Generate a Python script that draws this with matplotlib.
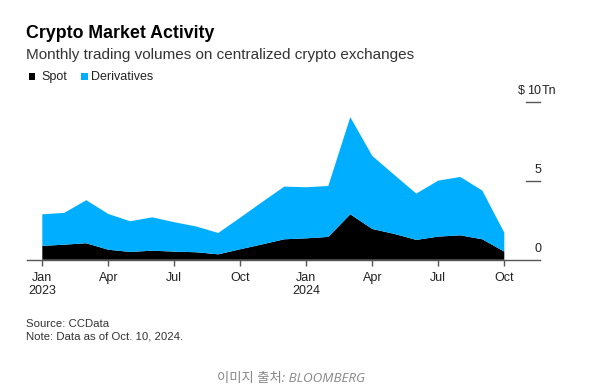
import matplotlib
matplotlib.use("Agg")
import matplotlib.pyplot as plt
from matplotlib.patches import Rectangle
from matplotlib.transforms import blended_transform_factory, offset_copy

# ---- data (trillions USD) ----
months = list(range(22))  # Jan 2023 .. Oct 2024
spot = [0.87, 0.95, 1.04, 0.63, 0.49, 0.57, 0.51, 0.47, 0.34, 0.66, 0.97, 1.29,
        1.35, 1.44, 2.87, 1.94, 1.63, 1.25, 1.46, 1.54, 1.29, 0.51]
derivatives = [2.00, 2.01, 2.72, 2.26, 1.94, 2.11, 1.86, 1.63, 1.35, 2.00, 2.68, 3.33,
               3.23, 3.22, 6.14, 4.62, 3.73, 2.93, 3.54, 3.69, 3.08, 1.20]
series_names = ["Spot", "Derivatives"]
series_colors = ["#000000", "#00AEFF"]
xtick_pos = [0, 3, 6, 9, 12, 15, 18, 21]
xtick_labels = ["Jan\n2023", "Apr", "Jul", "Oct", "Jan\n2024", "Apr", "Jul", "Oct"]
ytick_vals = [0, 5, 10]
ytick_labels = ["0", "5", "10"]

title = "Crypto Market Activity"
subtitle = "Monthly trading volumes on centralized crypto exchanges"
source = "Source: CCData"
note = "Note: Data as of Oct. 10, 2024."
caption = "이미지 출처: BLOOMBERG"

W, H = 590, 388
plt.rcParams['font.family'] = ['Liberation Sans', 'DejaVu Sans']
fig = plt.figure(figsize=(W / 100, H / 100), dpi=100)

def fx(px):
    return px / W

def fy(py):
    return 1 - py / H

ax_l, ax_r, ax_b, ax_t = 26.7, 540, 259.7, 101.5
ax = fig.add_axes([fx(ax_l), fy(ax_b), fx(ax_r - ax_l), (ax_b - ax_t) / H])

ax.stackplot(months, spot, derivatives, colors=series_colors, linewidth=0)
ax.set_xlim((ax_l - 42.3) / 22.0, (ax_r - 42.3) / 22.0)
ax.set_ylim(0, 10)

for s in ["top", "right", "left"]:
    ax.spines[s].set_visible(False)
ax.spines["bottom"].set_color("#555555")
ax.spines["bottom"].set_linewidth(1)
ax.spines["bottom"].set_zorder(0)
ax.set_yticks([])
ax.set_xticks(xtick_pos)
ax.set_xticklabels(xtick_labels, fontsize=9, color="#222222", linespacing=1.2)
ax.tick_params(axis="x", direction="out", length=4, width=1, color="#555555", pad=4.5)

# y ticks: short dashes at right with labels above
trans = blended_transform_factory(ax.transAxes, ax.transData)
x0 = (526 - ax_l) / (ax_r - ax_l)
for v, lab in zip(ytick_vals, ytick_labels):
    if v > 0:
        ax.plot([x0, 1.0], [v, v], transform=trans, color="#555555", lw=1, clip_on=False)
    t = offset_copy(trans, fig=fig, x=0, y=7.8, units="points")
    ax.text((541.5 - ax_l) / (ax_r - ax_l), v, lab, transform=t, ha="right", va="center",
            fontsize=9, color="#222222")
    if v == 10:
        ax.text((525 - ax_l) / (ax_r - ax_l), v, "$", transform=t, ha="right", va="center",
                fontsize=9, color="#222222")
        ax.text((541.8 - ax_l) / (ax_r - ax_l), v, "Tn", transform=t, ha="left", va="center",
                fontsize=9, color="#222222")

# titles
fig.text(fx(26.5), fy(37.7), title, fontsize=12.8, fontweight="bold", color="#000000", va="baseline")
fig.text(fx(26.5), fy(59), subtitle, fontsize=11.0, color="#333333", va="baseline")

# legend
lx = [28.5, 81.2]
tx = [41.7, 91]
for name, col, a, b in zip(series_names, series_colors, lx, tx):
    fig.patches.append(Rectangle((fx(a), fy(79.5)), fx(6.5), 6.5 / H, transform=fig.transFigure,
                                 facecolor=col, edgecolor="none"))
    fig.text(fx(b), fy(80), name, fontsize=9, color="#222222", va="baseline")

# footer
fig.text(fx(26.5), fy(327), source, fontsize=8.2, color="#333333", va="baseline")
fig.text(fx(26.5), fy(339.5), note, fontsize=8.2, color="#333333", va="baseline")
fig.text(fx(291), fy(382), caption, fontsize=9.6, color="#888888", va="baseline", ha="center",
         style="italic", family=["Open Sans", "Noto Sans CJK KR", "DejaVu Sans"])

fig.savefig("out.png", dpi=100)
